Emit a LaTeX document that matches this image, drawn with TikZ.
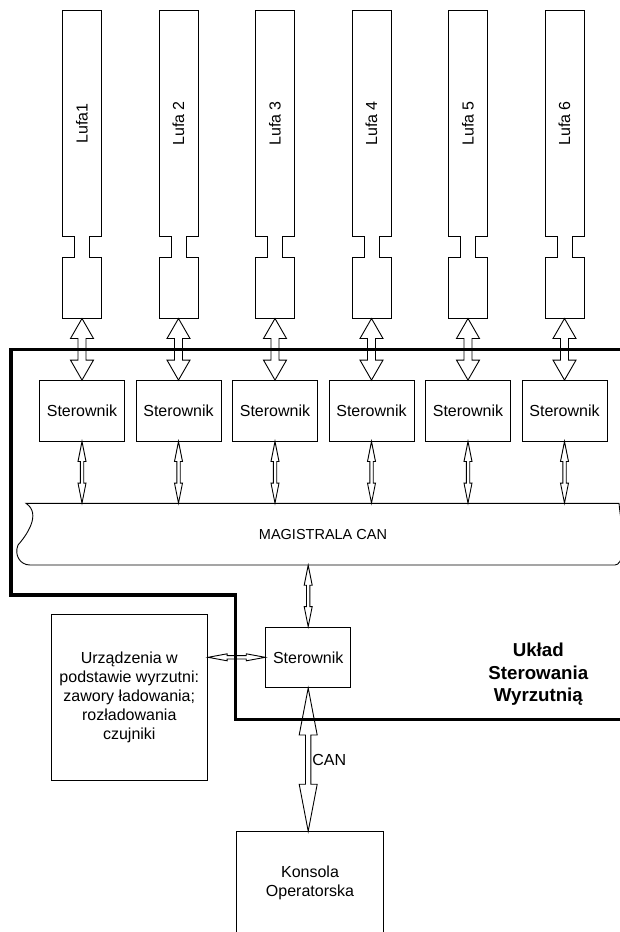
\documentclass[tikz,border=0pt]{standalone}
\usepackage{fontspec}
\setmainfont{Liberation Sans}
\usepackage{tikz}
\usetikzlibrary{positioning,calc}
\tikzset{
  linia/.style={line width=0.9pt},
  lufa/.style={rectangle, inner sep=0pt, minimum width=38.5pt, minimum height=307.6pt},
  ster/.style={rectangle, draw, line width=0.9pt, minimum width=85pt, minimum height=60.5pt,
               font=\fontsize{16}{19}\selectfont},
  blok/.style={rectangle, draw, line width=0.9pt, align=center, font=\fontsize{16}{19}\selectfont},
  strz/.style={draw, line width=0.9pt, fill=white, line join=miter},
  gran/.style={line width=3.3pt},
}
% dwustronna strzalka blokowa: od, do, pol trzonu, pol grotu, dlugosc grotu
\newcommand{\strzalka}[5]{%
  \draw[strz] (#1) -- ($(#1)!#5!(#2)!#4!90:(#2)$) -- ($(#1)!#5!(#2)!#3!90:(#2)$)
    -- ($(#2)!#5!(#1)!#3!-90:(#1)$) -- ($(#2)!#5!(#1)!#4!-90:(#1)$) -- (#2)
    -- ($(#2)!#5!(#1)!#4!90:(#1)$) -- ($(#2)!#5!(#1)!#3!90:(#1)$)
    -- ($(#1)!#5!(#2)!#3!-90:(#2)$) -- ($(#1)!#5!(#2)!#4!-90:(#2)$) -- cycle;}

\begin{document}
\begin{tikzpicture}[x=1pt, y=-1pt]
  \useasboundingbox (0,0) rectangle (620,932);

  % magistrala
  \node[inner sep=0pt, minimum width=594pt, minimum height=61.7pt,
        font=\fontsize{14.5}{17}\selectfont] (bus) at (323,534.2) {MAGISTRALA CAN};
  \draw[linia] (26,503.3) -- (619,503.3) .. controls (620,512) and (620,518) .. (624,528)
    -- (630,528) -- (630,550) -- (624,552) .. controls (621,560) and (619,565) .. (615,565)
    -- (30,565) .. controls (20,565) and (14,555) .. (18,545)
    .. controls (26,536) and (42,514) .. (26,503.3) -- cycle;

  \foreach \i/\t in {1/Lufa1,2/Lufa 2,3/Lufa 3,4/Lufa 4,5/Lufa 5,6/Lufa 6} {
    \node[lufa] (l\i) at ({82+96.5*(\i-1)},164.5) {};
    \draw[linia] (l\i.north west) -- (l\i.north east) -- ++(0,225.5) -- ++(-12,0) -- ++(0,21.3)
      -- ++(12,0) -- (l\i.south east) -- (l\i.south west) -- ++(0,-61) -- ++(12,0)
      -- ++(0,-21.3) -- ++(-12,0) -- cycle;
    \node[rotate=90, font=\fontsize{16}{19}\selectfont] (n\i) at ($(l\i.center)+(0,-41)$) {\t};
    \node[ster] (s\i) at ({82+96.5*(\i-1)},410.8) {Sterownik};
    \coordinate (m\i) at (s\i.south |- bus.north);
    \strzalka{l\i.south}{s\i.north}{4pt}{11.5pt}{20pt}
    \strzalka{s\i.south}{m\i}{1.7pt}{4pt}{20pt}
  }

  \node[ster] (ster) at (308.2,657.3) {Sterownik};
  \node[blok, minimum width=156.7pt, minimum height=165.7pt] (urz) at (129.3,697.2)
    {Urządzenia w\\podstawie wyrzutni:\\zawory ładowania;\\rozładowania\\czujniki};
  \node[blok, minimum width=146.6pt, minimum height=102pt] (kons) at (310,882.7)
    {Konsola\\Operatorska};
  \node[align=center, font=\fontsize{18.7}{22.5}\bfseries] (uklad) at (538.3,674.5)
    {Układ\\Sterowania\\Wyrzutnią};

  \coordinate (bs) at (bus.south -| ster.north);
  \coordinate (ue) at (urz.east |- ster.west);
  \coordinate (kn) at (ster.south |- kons.north);
  \strzalka{bs}{ster.north}{1.7pt}{4pt}{20pt}
  \strzalka{ue}{ster.west}{1.7pt}{3.5pt}{19pt}
  \strzalka{ster.south}{kn}{2.7pt}{9pt}{47pt}
  \node[right=4pt, inner sep=0pt, font=\fontsize{16}{19}\selectfont] (can)
    at ($(ster.south)!0.5!(kn)$) {CAN};

  % granica ukladu
  \draw[gran] (630,349.5) -- (11,349.5) -- (11,595) -- (235.5,595) -- (235.5,719.3) -- (630,719.3);
\end{tikzpicture}
\end{document}
